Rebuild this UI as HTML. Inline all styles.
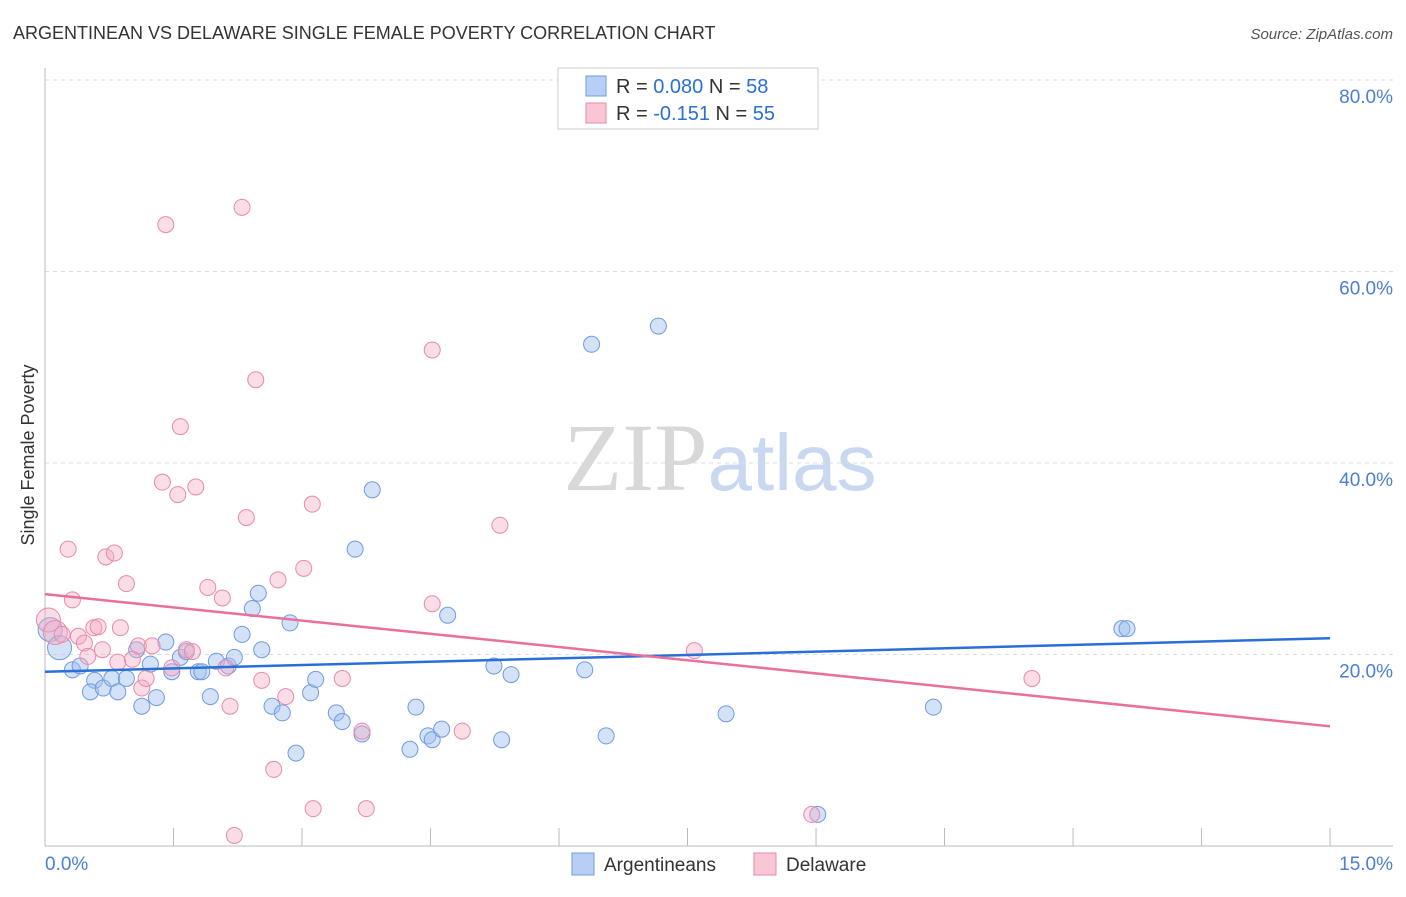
<!DOCTYPE html>
<html><head><meta charset="utf-8"><style>
body{margin:0;background:#fff;font-family:"Liberation Sans",sans-serif;}
</style></head><body>
<svg id="chart" width="1406" height="892" xmlns="http://www.w3.org/2000/svg" font-family="Liberation Sans, sans-serif">
<text x="13" y="39" font-size="18" fill="#333">ARGENTINEAN VS DELAWARE SINGLE FEMALE POVERTY CORRELATION CHART</text>
<text x="1393" y="39" font-size="15" fill="#555" text-anchor="end" font-style="italic">Source: ZipAtlas.com</text>
<text x="720" y="490" font-size="96" text-anchor="middle"><tspan fill="#d8d8d8" font-family="Liberation Serif, serif">ZIP</tspan><tspan fill="#c8d8f0" font-size="80">atlas</tspan></text>
<text transform="translate(34,455) rotate(-90)" font-size="18" fill="#333" text-anchor="middle">Single Female Poverty</text>
<g id="grid"></g><g id="axes"></g><g id="marks"></g>
<g>
<rect x="558" y="68" width="260" height="61" fill="#fff" stroke="#ccc"/>
<rect x="586" y="76" width="20" height="20" fill="#b7cff5" stroke="#6f9be0"/>
<rect x="586" y="103" width="20" height="20" fill="#f9c6d6" stroke="#e88aaa"/>
<text x="616" y="93" font-size="20" fill="#333">R = <tspan fill="#2a6fd6">0.080</tspan>   N = <tspan fill="#2a6fd6">58</tspan></text>
<text x="616" y="120" font-size="20" fill="#333">R = <tspan fill="#2a6fd6">-0.151</tspan>   N = <tspan fill="#2a6fd6">55</tspan></text>
</g>
<g>
<rect x="572" y="853" width="22" height="22" fill="#b7cff5" stroke="#6f9be0"/>
<text x="604" y="871" font-size="19" fill="#333">Argentineans</text>
<rect x="754" y="853" width="22" height="22" fill="#f9c6d6" stroke="#e88aaa"/>
<text x="786" y="871" font-size="19" fill="#333">Delaware</text>
</g>
</svg>
<script>
const yTicks=[20,40,60,80];
const yTickLabels=["20.0%","40.0%","60.0%","80.0%"];
const xTicks=[0,1.5,3,4.5,6,7.5,9,10.5,12,13.5,15];
const blueX=[0.06,0.17,0.32,0.41,0.58,0.53,0.68,0.78,0.85,0.95,1.07,1.13,1.23,1.30,1.41,1.48,1.58,1.65,1.79,1.83,1.93,2.00,2.14,2.21,2.30,2.42,2.49,2.53,2.65,2.77,2.86,2.93,3.10,3.16,3.40,3.47,3.62,3.70,3.82,4.26,4.33,4.47,4.52,4.63,4.70,5.24,5.33,5.44,6.30,6.38,6.55,7.16,7.95,9.02,10.37,12.57,12.63];
const blueY=[22.6,20.7,18.4,18.8,17.3,16.1,16.5,17.5,16.1,17.5,20.5,14.6,19.0,15.5,21.3,18.2,19.7,20.3,18.2,18.2,15.6,19.3,18.8,19.7,22.1,24.8,26.4,20.5,14.6,13.9,23.3,9.7,16.0,17.4,13.9,13.0,31.0,11.7,37.2,10.1,14.5,11.5,11.1,12.2,24.1,18.8,11.1,17.9,18.4,52.4,11.5,54.3,13.8,3.3,14.5,22.7,22.7];
const pinkX=[0.04,0.12,0.20,0.32,0.27,0.39,0.46,0.50,0.57,0.62,0.67,0.71,0.81,0.85,0.88,0.95,1.02,1.09,1.13,1.18,1.25,1.37,1.41,1.48,1.55,1.58,1.65,1.72,1.76,1.90,2.07,2.11,2.16,2.21,2.30,2.35,2.46,2.53,2.67,2.72,2.81,3.02,3.12,3.13,3.47,3.70,3.75,4.52,4.52,4.87,5.31,7.58,8.95,11.52];
const pinkY=[23.6,22.3,22.1,25.7,31.0,21.9,21.2,19.8,22.8,22.9,20.5,30.2,30.6,19.2,22.8,27.4,19.5,20.9,16.5,17.5,20.9,38.0,64.9,18.6,36.7,43.8,20.5,20.3,37.5,27.0,25.9,18.6,14.6,1.1,66.7,34.3,48.7,17.3,8.0,27.8,15.6,29.0,35.7,3.9,17.5,12.0,3.9,51.8,25.3,12.0,33.5,20.4,3.3,17.5];
const blueTrend=[18.2,21.7];
const pinkTrend=[26.3,12.5];
const NS="http://www.w3.org/2000/svg";
const X=v=>45+v*85.67, Y=v=>846-v*9.575;
function mk(tag,attrs,parent){const e=document.createElementNS(NS,tag);for(const k in attrs)e.setAttribute(k,attrs[k]);document.getElementById(parent).appendChild(e);return e;}
yTicks.forEach((t,i)=>{
 const g=mk('line',{x1:45,x2:1393,y1:Y(t),y2:Y(t),stroke:'#ddd','stroke-dasharray':'4,4'},'grid');
 
 
 const l=mk('text',{x:1393,y:Y(t)+23,'font-size':19,fill:'#4a7fd4','text-anchor':'end'},'grid');
 l.textContent=yTickLabels[i];
 
 
});
const ya=mk('line',{x1:45,x2:45,y1:68,y2:846,stroke:'#bbb'},'axes');


const xa=mk('line',{x1:45,x2:1393,y1:846,y2:846,stroke:'#bbb'},'axes');


xTicks.forEach(t=>{
 const e=mk('line',{x1:X(t),x2:X(t),y1:828,y2:846,stroke:'#bbb'},'axes');
 
 
});
const x0=mk('text',{x:45,y:870,'font-size':19,fill:'#4a7fd4'},'axes');x0.textContent='0.0%';


const x1=mk('text',{x:1393,y:870,'font-size':19,fill:'#4a7fd4','text-anchor':'end'},'axes');x1.textContent='15.0%';


function pts(xs,ys,fill,stroke,name){xs.forEach((x,i)=>{
 const r=(i<2&&x<0.3)?12:8;
 const c=mk('circle',{cx:X(x),cy:Y(ys[i]),r:r,fill:fill,stroke:stroke,'stroke-width':1},'marks');
 
 
});}
pts(blueX,blueY,'rgba(160,190,240,0.45)','#6f9be0','argentinean-point');
pts(pinkX,pinkY,'rgba(245,170,195,0.4)','#e88aaa','delaware-point');
const bl=mk('line',{x1:X(0),x2:X(15),y1:Y(blueTrend[0]),y2:Y(blueTrend[1]),stroke:'#2a6fd6','stroke-width':2.5},'marks');


const pl=mk('line',{x1:X(0),x2:X(15),y1:Y(pinkTrend[0]),y2:Y(pinkTrend[1]),stroke:'#e8709a','stroke-width':2.5},'marks');


</script>
</body></html>
